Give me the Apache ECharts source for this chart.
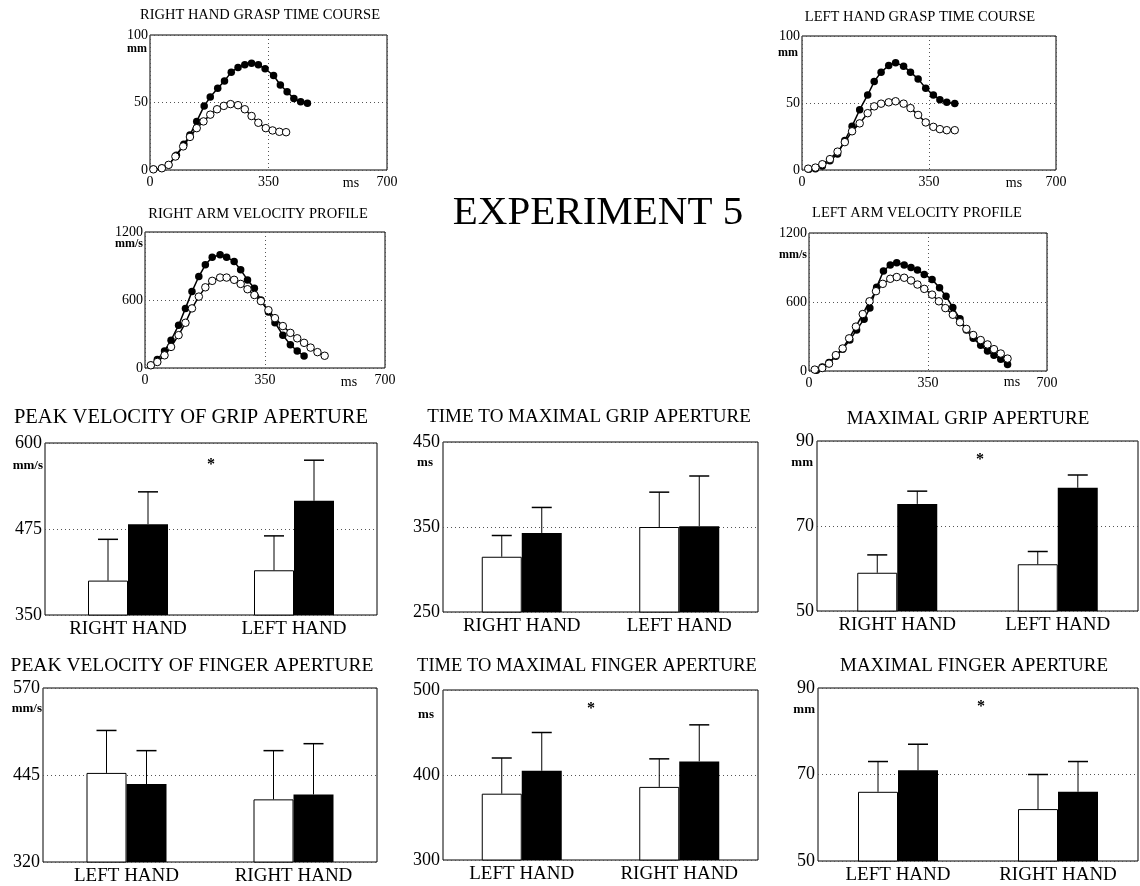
<!DOCTYPE html>
<html><head><meta charset="utf-8">
<script src="https://cdn.jsdelivr.net/npm/echarts@6/dist/echarts.min.js"></script>
<style>html,body{margin:0;padding:0;background:#fff}#c{width:1140px;height:886px}</style>
</head><body><div id="c"></div>
<script>
// ---------- DATA ----------
const rightGraspClosed = [[10,0.5],[35,1.3],[55,3.8],[78,11],[100,19],[118,26],[138,36],[160,47.5],[178,54],[200,60.5],[220,66],[240,72.5],[260,76],[280,78],[300,79],[320,78],[340,75],[365,70],[385,63],[405,58],[425,53],[445,50.5],[465,49.5]];
const rightGraspOpen = [[10,0.5],[35,1.3],[55,3.8],[75,10],[98,17.5],[118,24.5],[138,31],[158,36],[178,41],[198,45],[218,47.5],[238,48.8],[260,48],[280,45],[300,40],[320,35],[342,31],[362,29.3],[382,28.3],[402,28]];
const leftGraspClosed = [[19,0.5],[37,1],[56,3],[77,6.9],[98,12],[118,22],[138,32.7],[159,45],[181,56],[199,66],[218,73],[239,78],[258,80],[280,77.5],[299,73],[320,68],[341,61],[362,56],[380,52.5],[399,50.5],[421,49.7]];
const leftGraspOpen = [[17,1],[37,1.8],[56,4.3],[77,8.1],[98,13.7],[118,20.8],[138,28.9],[159,34.8],[181,42.4],[199,47.5],[218,49.5],[239,50.5],[258,51.3],[280,49.5],[299,46.2],[320,41.1],[341,35.5],[362,32.2],[380,30.5],[399,29.7],[421,29.7]];
const rightVelClosed = [[17,24],[36,74],[57,151],[76,245],[98,378],[118,526],[137,674],[157,807],[176,910],[196,978],[219,999],[238,978],[260,940],[279,866],[299,777],[319,703],[338,600],[360,495],[379,400],[402,290],[424,205],[444,150],[464,105]];
const rightVelOpen = [[17,24],[36,53],[57,112],[76,186],[98,290],[118,399],[137,526],[157,630],[176,712],[196,769],[219,798],[238,798],[260,778],[279,742],[299,695],[319,644],[338,590],[360,510],[379,440],[402,370],[424,310],[444,262],[464,222],[483,180],[503,140],[524,108]];
const leftVelClosed = [[22,6],[39,35],[59,73],[79,129],[99,190],[120,269],[140,357],[162,451],[179,547],[199,729],[219,869],[239,922],[258,942],[280,922],[300,899],[319,878],[339,840],[362,796],[384,723],[403,650],[423,553],[444,454],[463,357],[483,284],[505,225],[525,173],[544,138],[564,102],[584,56]];
const leftVelOpen = [[17,12],[39,26],[59,64],[79,138],[99,196],[118,284],[138,386],[158,495],[178,606],[197,694],[217,758],[239,802],[258,817],[280,811],[300,787],[319,752],[339,714],[362,664],[382,606],[401,547],[423,489],[444,424],[463,366],[483,313],[505,269],[525,231],[544,190],[564,152],[584,108]];

const handsRL = ['RIGHT HAND','LEFT HAND'];
const handsLR = ['LEFT HAND','RIGHT HAND'];

const pvGripOpen = [400, 415];   const pvGripOpenErr = [460, 465];
const pvGripFilled = [482, 516]; const pvGripFilledErr = [529, 575];
const tmGripOpen = [315, 350];   const tmGripOpenErr = [340, 391];
const tmGripFilled = [343, 351]; const tmGripFilledErr = [373, 410];
const mgGripOpen = [59, 61];     const mgGripOpenErr = [63.2, 64];
const mgGripFilled = [75.2, 79]; const mgGripFilledErr = [78.2, 82];
const pvFingOpen = [448, 410];   const pvFingOpenErr = [509, 480];
const pvFingFilled = [432, 417]; const pvFingFilledErr = [480, 490];
const tmFingOpen = [378, 386];   const tmFingOpenErr = [420, 419];
const tmFingFilled = [405, 416]; const tmFingFilledErr = [450, 459];
const mfFingOpen = [66, 62];     const mfFingOpenErr = [73, 70];
const mfFingFilled = [71, 66];   const mfFingFilledErr = [77, 73];

// ---------- BUILD ----------
const FONT = '"Liberation Serif","DejaVu Serif",serif';
const BAR_W = 40;
const grids=[], xAxes=[], yAxes=[], series=[], graphics=[];
const dotted = {show:true, lineStyle:{type:[1,3], color:'#555', width:1}};
const plain = v => String(v);

function addGrid(box){
  grids.push({left:box[0], top:box[1], width:box[2], height:box[3], show:true, borderColor:'#000', borderWidth:1, backgroundColor:'transparent', containLabel:false});
  return grids.length-1;
}
function addLine(box, ymax, yint, closed, open){
  const i = addGrid(box);
  xAxes.push({gridIndex:i, type:'value', min:0, max:700, interval:350, axisLine:{show:false}, axisTick:{show:false},
    axisLabel:{fontFamily:FONT, fontSize:14, color:'#000', margin:5, formatter:plain}, splitLine:dotted});
  yAxes.push({gridIndex:i, type:'value', min:0, max:ymax, interval:yint, axisLine:{show:false}, axisTick:{show:false},
    axisLabel:{fontFamily:FONT, fontSize:14, color:'#000', margin:2, formatter:plain}, splitLine:dotted});
  series.push({type:'line', xAxisIndex:i, yAxisIndex:i, data:closed, symbol:'circle', symbolSize:7.5,
    itemStyle:{color:'#000'}, lineStyle:{color:'#000', width:1.5}, z:3});
  series.push({type:'line', xAxisIndex:i, yAxisIndex:i, data:open, symbol:'circle', symbolSize:7.5,
    itemStyle:{color:'#fff', borderColor:'#000', borderWidth:1}, lineStyle:{color:'#000', width:1.5}, z:4});
}
function errSeries(i, vals, errs, off){
  return {type:'custom', xAxisIndex:i, yAxisIndex:i, z:5,
    data: vals.map((v,k)=>[k, v, errs[k]]),
    renderItem:(params, api)=>{
      const p = api.coord([api.value(0), api.value(1)]);
      const t = api.coord([api.value(0), api.value(2)]);
      const x = p[0] + off;
      return {type:'group', children:[
        {type:'line', shape:{x1:x, y1:p[1], x2:x, y2:t[1]}, style:{stroke:'#000', lineWidth:1}},
        {type:'line', shape:{x1:x-10, y1:t[1], x2:x+10, y2:t[1]}, style:{stroke:'#000', lineWidth:1.5}}
      ]};
    }};
}
function addBar(box, cats, min, max, interval, open, openErr, filled, filledErr){
  const i = addGrid(box);
  xAxes.push({gridIndex:i, type:'category', data:cats, axisLine:{show:false}, axisTick:{show:false},
    axisLabel:{fontFamily:FONT, fontSize:19, color:'#000', margin:5}, splitLine:{show:false}});
  yAxes.push({gridIndex:i, type:'value', min:min, max:max, interval:interval, axisLine:{show:false}, axisTick:{show:false},
    axisLabel:{fontFamily:FONT, fontSize:18, color:'#000', margin:3, formatter:plain}, splitLine:dotted});
  series.push({type:'bar', xAxisIndex:i, yAxisIndex:i, data:open, barWidth:BAR_W, barGap:'0%',
    itemStyle:{color:'#fff', borderColor:'#000', borderWidth:1}});
  series.push({type:'bar', xAxisIndex:i, yAxisIndex:i, data:filled, barWidth:BAR_W, barGap:'0%',
    itemStyle:{color:'#000'}});
  series.push(errSeries(i, open, openErr, -BAR_W/2));
  series.push(errSeries(i, filled, filledErr, BAR_W/2));
}
function txt(s, x, y, size, align, weight){
  graphics.push({type:'text', x:x, y:y, style:{text:s, font:(weight||'normal')+' '+size+'px '+FONT, fill:'#000',
    textAlign:align||'center', textVerticalAlign:'middle'}});
}

addLine([150,35,237,135], 100, 50, rightGraspClosed, rightGraspOpen);
addLine([802,36,254,134], 100, 50, leftGraspClosed, leftGraspOpen);
addLine([145,232,240,136], 1200, 600, rightVelClosed, rightVelOpen);
addLine([809,233,238,138], 1200, 600, leftVelClosed, leftVelOpen);

addBar([45,443,332,172], handsRL, 350, 600, 125, pvGripOpen, pvGripOpenErr, pvGripFilled, pvGripFilledErr);
addBar([443,442,315,170], handsRL, 250, 450, 100, tmGripOpen, tmGripOpenErr, tmGripFilled, tmGripFilledErr);
addBar([817,441,321,170], handsRL, 50, 90, 20, mgGripOpen, mgGripOpenErr, mgGripFilled, mgGripFilledErr);
addBar([43,688,334,174], handsLR, 320, 570, 125, pvFingOpen, pvFingOpenErr, pvFingFilled, pvFingFilledErr);
addBar([443,690,315,170], handsLR, 300, 500, 100, tmFingOpen, tmFingOpenErr, tmFingFilled, tmFingFilledErr);
addBar([818,688,320,173], handsLR, 50, 90, 20, mfFingOpen, mfFingOpenErr, mfFingFilled, mfFingFilledErr);

// titles
txt('RIGHT HAND GRASP TIME COURSE', 260, 15, 14.5);
txt('LEFT HAND GRASP TIME COURSE', 920, 17, 14.5);
txt('RIGHT ARM VELOCITY PROFILE', 258, 214, 14.5);
txt('LEFT ARM VELOCITY PROFILE', 917, 213, 14.5);
txt('EXPERIMENT 5', 598, 213, 41);
txt('PEAK VELOCITY OF GRIP APERTURE', 191, 418, 20.5);
txt('TIME TO MAXIMAL GRIP APERTURE', 589, 417, 19);
txt('MAXIMAL GRIP APERTURE', 968, 419, 19);
txt('PEAK VELOCITY OF FINGER APERTURE', 192, 666, 19.5);
txt('TIME TO MAXIMAL FINGER APERTURE', 587, 666, 18.5);
txt('MAXIMAL FINGER APERTURE', 974, 666, 19);
// units
txt('mm', 147, 49, 12, 'right', 'bold');
txt('mm', 798, 53, 12, 'right', 'bold');
txt('mm/s', 143, 244, 12, 'right', 'bold');
txt('mm/s', 807, 255, 12, 'right', 'bold');
txt('ms', 351, 183, 14);
txt('ms', 1014, 183, 14);
txt('ms', 349, 382, 14);
txt('ms', 1012, 382, 14);
txt('mm/s', 43, 466, 13, 'right', 'bold');
txt('ms', 425, 463, 13, 'center', 'bold');
txt('mm', 813, 463, 13, 'right', 'bold');
txt('mm/s', 42, 709, 13, 'right', 'bold');
txt('ms', 426, 715, 13, 'center', 'bold');
txt('mm', 815, 710, 13, 'right', 'bold');
// significance marks
txt('*', 211, 465, 16, 'center', 'bold');
txt('*', 980, 460, 16, 'center', 'bold');
txt('*', 591, 709, 16, 'center', 'bold');
txt('*', 981, 707, 16, 'center', 'bold');

const chart = echarts.init(document.getElementById('c'), null, {renderer:'canvas'});
chart.setOption({
  backgroundColor:'#fff',
  animation:false,
  textStyle:{fontFamily:FONT},
  grid:grids, xAxis:xAxes, yAxis:yAxes, series:series, graphic:graphics
});
</script>
</body></html>
